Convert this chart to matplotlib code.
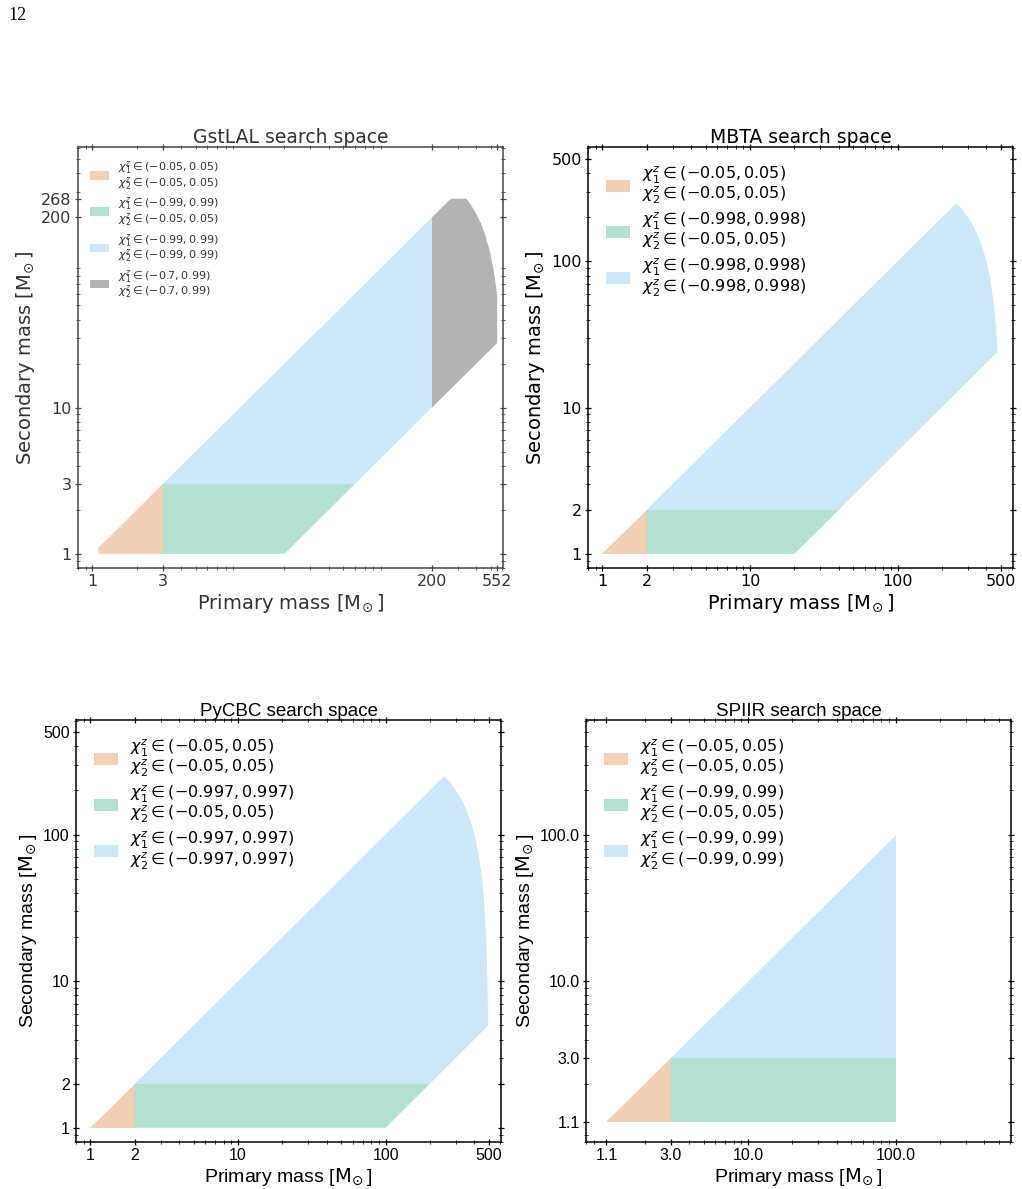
import matplotlib
matplotlib.use("Agg")
import matplotlib.pyplot as plt
from matplotlib.patches import Patch
from matplotlib.ticker import FixedLocator, FixedFormatter, LogLocator, NullFormatter

# region colours, all drawn at alpha 0.3
C_ORANGE = "#D55E00"
C_GREEN = "#009E73"
C_BLUE = "#56B4E9"
C_GRAY = "#000000"

# ---- GstLAL (primary m1, secondary m2 vertices) ----
gst_orange_m1 = [1.1, 3, 3, 1.1]
gst_orange_m2 = [1, 1, 3, 1.1]
gst_green_m1 = [3, 20, 60, 3]
gst_green_m2 = [1, 1, 3, 3]
gst_blue_m1 = [3, 60, 200, 200]
gst_blue_m2 = [3, 3, 10, 200]
gst_gray_m1 = [200, 552, 552, 540, 520, 490, 460, 430, 400, 370, 342, 268, 200]
gst_gray_m2 = [10, 27.6, 58, 70, 90, 120, 150, 180, 210, 240, 268, 268, 200]
gst_ticks = [1, 3, 200, 552]
gst_yticks = [1, 3, 10, 200, 268]
gst_labels = [
    r"$\chi_1^z \in (-0.05, 0.05)$" + "\n" + r"$\chi_2^z \in (-0.05, 0.05)$",
    r"$\chi_1^z \in (-0.99, 0.99)$" + "\n" + r"$\chi_2^z \in (-0.05, 0.05)$",
    r"$\chi_1^z \in (-0.99, 0.99)$" + "\n" + r"$\chi_2^z \in (-0.99, 0.99)$",
    r"$\chi_1^z \in (-0.7, 0.99)$" + "\n" + r"$\chi_2^z \in (-0.7, 0.99)$",
]

# ---- MBTA ----
mbta_orange_m1 = [1, 2, 2]
mbta_orange_m2 = [1, 1, 2]
mbta_green_m1 = [2, 20, 40, 2]
mbta_green_m2 = [1, 1, 2, 2]
mbta_blue_m1 = [2, 40, 476, 465, 450, 425, 400, 370, 345, 320, 300, 280, 265, 250]
mbta_blue_m2 = [2, 2, 24, 35, 50, 75, 100, 130, 155, 180, 200, 220, 235, 250]
mbta_ticks = [1, 2, 10, 100, 500]
mbta_labels = [
    r"$\chi_1^z \in (-0.05, 0.05)$" + "\n" + r"$\chi_2^z \in (-0.05, 0.05)$",
    r"$\chi_1^z \in (-0.998, 0.998)$" + "\n" + r"$\chi_2^z \in (-0.05, 0.05)$",
    r"$\chi_1^z \in (-0.998, 0.998)$" + "\n" + r"$\chi_2^z \in (-0.998, 0.998)$",
]

# ---- PyCBC ----
pycbc_orange_m1 = [1, 2, 2]
pycbc_orange_m2 = [1, 1, 2]
pycbc_green_m1 = [2, 100, 200, 2]
pycbc_green_m2 = [1, 1, 2, 2]
pycbc_blue_m1 = [2, 200, 495, 493, 488, 480, 465, 450, 425, 400, 375, 350, 325, 300, 280, 265, 250]
pycbc_blue_m2 = [2, 2, 5, 7, 12, 20, 35, 50, 75, 100, 125, 150, 175, 200, 220, 235, 250]
pycbc_ticks = [1, 2, 10, 100, 500]
pycbc_labels = [
    r"$\chi_1^z \in (-0.05, 0.05)$" + "\n" + r"$\chi_2^z \in (-0.05, 0.05)$",
    r"$\chi_1^z \in (-0.997, 0.997)$" + "\n" + r"$\chi_2^z \in (-0.05, 0.05)$",
    r"$\chi_1^z \in (-0.997, 0.997)$" + "\n" + r"$\chi_2^z \in (-0.997, 0.997)$",
]

# ---- SPIIR ----
spiir_orange_m1 = [1.1, 3, 3]
spiir_orange_m2 = [1.1, 1.1, 3]
spiir_green_m1 = [3, 100, 100, 3]
spiir_green_m2 = [1.1, 1.1, 3, 3]
spiir_blue_m1 = [3, 100, 100]
spiir_blue_m2 = [3, 3, 100]
spiir_ticks = [1.1, 3.0, 10.0, 100.0]
spiir_labels = [
    r"$\chi_1^z \in (-0.05, 0.05)$" + "\n" + r"$\chi_2^z \in (-0.05, 0.05)$",
    r"$\chi_1^z \in (-0.99, 0.99)$" + "\n" + r"$\chi_2^z \in (-0.05, 0.05)$",
    r"$\chi_1^z \in (-0.99, 0.99)$" + "\n" + r"$\chi_2^z \in (-0.99, 0.99)$",
]

W, H = 1022, 1189
fig = plt.figure(figsize=(W / 100, H / 100), dpi=100)
fig.text(8 / W, 1 - 20 / H, "12", family="Liberation Serif", fontsize=13)

MSUN = r"[$\mathrm{M}_{\!\odot}$]"


def make_axes(x0, y0, x1, y1):
    return fig.add_axes([x0 / W, 1 - y1 / H, (x1 - x0) / W, (y1 - y0) / H])


def style_axes(ax, xt, xl, yt, yl, family, color, spine, tsize, lsize):
    ax.set_xscale("log")
    ax.set_yscale("log")
    ax.set_xlim(0.8, 605)
    ax.set_ylim(0.8, 605)
    ax.xaxis.set_major_locator(FixedLocator(xt))
    ax.xaxis.set_major_formatter(FixedFormatter(xl))
    ax.yaxis.set_major_locator(FixedLocator(yt))
    ax.yaxis.set_major_formatter(FixedFormatter(yl))
    for a in (ax.xaxis, ax.yaxis):
        a.set_minor_locator(LogLocator(base=10, subs=range(2, 10), numticks=20))
        a.set_minor_formatter(NullFormatter())
    ax.tick_params(which="both", top=True, right=True, direction="inout",
                   colors=spine, labelcolor=color, labelsize=tsize, pad=2)
    ax.tick_params(which="major", length=5, width=0.9)
    ax.tick_params(which="minor", length=2.5, width=0.6)
    for lab in ax.get_xticklabels() + ax.get_yticklabels():
        lab.set_family(family)
    for s in ax.spines.values():
        s.set_color(spine)
        s.set_linewidth(1.1)
    ax.set_xlabel("Primary mass " + MSUN, family=family, color=color,
                  fontsize=lsize, labelpad=2)
    ax.set_ylabel("Secondary mass " + MSUN, family=family, color=color,
                  fontsize=lsize, labelpad=3)


def draw_regions(ax, regions):
    for m1, m2, c in regions:
        ax.fill(m1, m2, color=c, alpha=0.3, lw=0)


def add_legend(ax, colors, labels, fs, hl, hh, ls, lsp, tcolor):
    handles = [Patch(facecolor=c, alpha=0.3, lw=0) for c in colors]
    leg = ax.legend(handles, labels, loc="upper left", frameon=False, fontsize=fs,
                    handlelength=hl, handleheight=hh, labelspacing=ls,
                    borderaxespad=0.7)
    for t in leg.get_texts():
        t.set_color(tcolor)
        t.set_linespacing(lsp)
    return leg


# GstLAL
ax1 = make_axes(78, 147, 503, 568)
draw_regions(ax1, [(gst_orange_m1, gst_orange_m2, C_ORANGE),
                   (gst_green_m1, gst_green_m2, C_GREEN),
                   (gst_blue_m1, gst_blue_m2, C_BLUE),
                   (gst_gray_m1, gst_gray_m2, C_GRAY)])
style_axes(ax1, gst_ticks, [str(t) for t in gst_ticks],
           gst_yticks, [str(t) for t in gst_yticks],
           "DejaVu Sans", "#333333", "#444444", 11.5, 14)
ax1.set_title("GstLAL search space", family="DejaVu Sans", color="#333333",
              fontsize=13.5, pad=2)
add_legend(ax1, (C_ORANGE, C_GREEN, C_BLUE, C_GRAY), gst_labels,
           8, 1.7, 0.8, 0.35, 0.85, "#333333")

# MBTA
ax2 = make_axes(588, 147, 1013, 568)
draw_regions(ax2, [(mbta_orange_m1, mbta_orange_m2, C_ORANGE),
                   (mbta_green_m1, mbta_green_m2, C_GREEN),
                   (mbta_blue_m1, mbta_blue_m2, C_BLUE)])
style_axes(ax2, mbta_ticks, [str(t) for t in mbta_ticks],
           mbta_ticks, [str(t) for t in mbta_ticks],
           "DejaVu Sans", "black", "black", 11.5, 14)
ax2.set_title("MBTA search space", family="DejaVu Sans", fontsize=13.5, pad=2)
add_legend(ax2, (C_ORANGE, C_GREEN, C_BLUE), mbta_labels,
           11.5, 1.5, 0.8, 0.3, 0.95, "black")

# PyCBC
ax3 = make_axes(76, 720, 501, 1142)
draw_regions(ax3, [(pycbc_orange_m1, pycbc_orange_m2, C_ORANGE),
                   (pycbc_green_m1, pycbc_green_m2, C_GREEN),
                   (pycbc_blue_m1, pycbc_blue_m2, C_BLUE)])
style_axes(ax3, pycbc_ticks, [str(t) for t in pycbc_ticks],
           pycbc_ticks, [str(t) for t in pycbc_ticks],
           "Liberation Sans", "black", "black", 11.5, 14)
ax3.set_title("PyCBC search space", family="Liberation Sans", fontsize=13.5, pad=2)
add_legend(ax3, (C_ORANGE, C_GREEN, C_BLUE), pycbc_labels,
           11.5, 1.5, 0.8, 0.3, 0.95, "black")

# SPIIR
ax4 = make_axes(586, 720, 1011, 1142)
draw_regions(ax4, [(spiir_orange_m1, spiir_orange_m2, C_ORANGE),
                   (spiir_green_m1, spiir_green_m2, C_GREEN),
                   (spiir_blue_m1, spiir_blue_m2, C_BLUE)])
style_axes(ax4, spiir_ticks, [f"{t:.1f}" for t in spiir_ticks],
           spiir_ticks, [f"{t:.1f}" for t in spiir_ticks],
           "Liberation Sans", "black", "black", 11.5, 14)
ax4.set_title("SPIIR search space", family="Liberation Sans", fontsize=13.5, pad=2)
add_legend(ax4, (C_ORANGE, C_GREEN, C_BLUE), spiir_labels,
           11.5, 1.5, 0.8, 0.3, 0.95, "black")

fig.savefig("out.png", dpi=100)
